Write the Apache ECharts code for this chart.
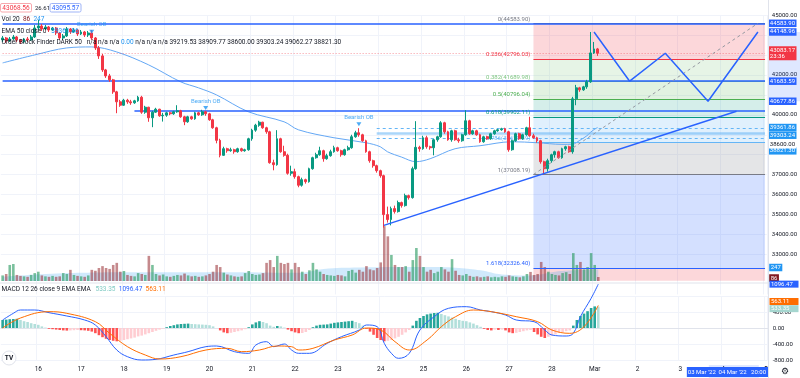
<!DOCTYPE html>
<html><head><meta charset="utf-8">
<script src="https://cdn.jsdelivr.net/npm/echarts@6/dist/echarts.min.js"></script>
<style>html,body{margin:0;padding:0;background:#fff;}#c{width:800px;height:378px;}</style>
</head><body><div id="c"></div>
<script>
// ---------------- DATA ----------------
const START_UTC = Date.UTC(2022, 1, 15, 4);   // first 2h bar: 15 Feb 04:00
const STEP_HOURS = 2;
const N_SLOTS = 215;                            // bars + empty future slots
const MONTHS = ['Jan','Feb','Mar','Apr','May','Jun','Jul','Aug','Sep','Oct','Nov','Dec'];
const categories = [];
for (let i = 0; i < N_SLOTS; i++) {
  const d = new Date(START_UTC + i * STEP_HOURS * 3600e3);
  categories.push(d.toISOString().slice(0, 16).replace('T', ' '));
}
// OHLC as [open, close, low, high]
const ohlc = [
[43750,43850,43650,43950],[43850,43700,43600,43900],[43700,43800,43650,43900],[43800,43900,43750,44000],
[43900,43750,43650,43950],[43750,43650,43550,43800],[43650,43800,43600,43850],[43800,43750,43650,43900],
[43750,43900,43700,44000],[43900,44350,43850,44500],[44350,44450,44250,44750],[44450,44300,44200,44550],
[44300,44400,44250,44500],[44400,44250,44150,44450],[44250,44350,44200,44400],[44350,44100,44000,44400],
[44100,43850,43750,44150],[43850,43950,43750,44050],[43950,44300,43900,44400],[44300,44150,44050,44350],
[44150,44250,44100,44350],[44250,44050,43950,44300],[44050,44150,44000,44250],[44150,44000,43900,44200],
[44000,44100,43900,44200],[44100,43850,43750,44250],[43850,43350,43250,43900],[43350,42950,42800,43450],
[42950,42250,42150,43050],[42250,41950,41850,42300],[41950,41750,41650,42050],[41750,41150,41050,41800],
[41150,40650,40080,41200],[40650,40480,40400,40750],[40480,40730,40450,40800],[40730,40650,40550,40800],
[40650,40600,40500,40750],[40600,40700,40550,40750],[40700,40880,40650,40950],[40880,40130,40050,40950],
[40130,40380,40050,40450],[40380,39850,39650,40400],[39850,40130,39380,40200],[40130,40280,40100,40350],
[40280,39950,39900,40300],[39950,39980,39660,40100],[39980,40100,39900,40150],[40100,40050,39980,40150],
[40050,40150,40000,40200],[40150,40200,40100,40480],[40200,39900,39850,40250],[39900,39650,39480,39950],
[39650,39900,39600,39950],[39900,39800,39750,39950],[39800,40100,39750,40150],[40100,40000,39950,40150],
[40000,40150,39950,40250],[40150,40050,39950,40200],[40050,39750,39700,40100],[39750,39350,39300,39800],
[39350,38720,38570,39400],[38720,37970,37870,38800],[37970,38300,37950,38400],[38300,38200,38100,38350],
[38200,38250,38150,38350],[38250,38150,38050,38300],[38150,38300,38100,38350],[38300,38200,38150,38350],
[38200,38250,38150,38300],[38250,38800,38200,38850],[38800,39230,38700,39300],[39230,39480,39150,39550],
[39480,39630,39400,39700],[39630,39350,39300,39650],[39350,39150,39050,39400],[39150,37600,37550,39200],
[37600,37500,37220,37750],[37500,38800,37450,39230],[38800,38150,38100,38850],[38150,37970,37900,38450],
[37970,37070,37000,38050],[37070,37150,36950,37450],[37150,36900,36800,37300],[36900,36470,36370,36950],
[36470,36750,36400,36850],[36750,36650,36550,36800],[36650,37300,36600,37350],[37300,37850,37250,37900],
[37850,38000,37800,38100],[38000,38200,37950,38400],[38200,37800,37650,38250],[37800,37950,37750,38050],
[37950,38150,37900,38250],[38150,38350,38100,38450],[38350,38200,38150,38400],[38200,38000,37900,38250],
[38000,38250,37950,38300],[38250,38350,38200,38450],[38350,38900,38300,39000],[38900,39100,38850,39200],
[39100,39000,38900,39330],[39000,38700,38650,39050],[38700,38150,38100,38750],[38150,37700,37600,38200],
[37700,37450,37350,37750],[37450,37200,37100,37500],[37200,36950,36850,37250],[36950,35000,34350,37000],
[35000,34750,34600,35400],[34750,35300,34460,35400],[35300,35150,35050,35450],[35150,35600,35100,35700],
[35600,35450,35350,35650],[35450,35950,35400,36050],[35950,35850,35750,36000],[35850,37300,35800,37400],
[37300,38370,37250,39680],[38370,38300,38150,38450],[38300,38850,38250,38950],[38850,38400,38300,38950],
[38400,38350,38250,38450],[38350,38750,37970,38800],[38750,38900,38650,38950],[38900,39600,38850,39680],
[39600,39150,39050,39650],[39150,38750,38700,39200],[38750,39200,38650,39250],[39200,38750,38700,39250],
[38750,38700,38600,38850],[38700,39000,38650,39050],[39000,39700,38950,40230],[39700,39050,39000,39750],
[39050,39200,39000,39250],[39200,39000,38950,39250],[39000,38650,38600,39050],[38650,38900,38600,38950],
[38900,38800,38750,38950],[38800,39050,38750,39100],[39050,39200,39000,39250],[39200,39250,39150,39300],
[39250,39300,39200,39350],[39300,39150,39100,39350],[39150,38250,38150,39200],[38250,38700,38200,38750],
[38700,39050,38650,39100],[39050,38800,38750,39100],[38800,39000,38750,39050],[39000,39350,38950,39400],
[39350,38950,38900,39900],[38950,38850,38800,39050],[38850,38700,38600,38900],[38700,37650,37550,38750],
[37650,37300,37008,37700],[37300,37700,37150,37800],[37700,38000,37600,38050],[38000,38150,37850,38200],
[38150,37850,37800,38200],[37850,38300,37800,38350],[38300,38400,38200,38450],[38400,38150,38100,38450],
[38150,40800,38050,40900],[40800,41350,40480,41500],[41350,41250,41150,41400],[41250,41400,41200,41450],
[41400,41650,41300,41750],[41650,43100,41600,44148.96],[43100,43300,43050,43650],[43300,43083.17,42950,43350]
];
const volume = [
120,150,345,365,130,110,100,90,130,170,200,120,100,90,110,90,100,170,150,240,
130,110,100,90,120,240,220,280,320,280,260,345,390,200,215,130,110,100,170,150,
130,540,345,150,120,140,100,90,110,130,120,160,120,100,110,90,100,120,150,200,
345,300,180,140,120,100,90,100,170,215,150,130,140,170,390,450,300,540,390,365,
390,250,390,300,200,150,230,390,250,200,150,130,120,110,130,120,100,215,240,180,
240,200,320,250,230,280,400,1180,960,560,345,300,300,320,200,450,710,540,300,200,
240,170,200,300,250,200,470,220,130,120,150,110,90,100,80,90,100,80,90,80,
100,90,120,100,90,80,100,150,195,130,150,410,300,200,150,130,120,170,190,150,
600,345,410,250,300,600,345,86
];
const volMA = [[0,90],[18,170],[40,190],[65,190],[83,175],[90,260],[100,290],[120,300],[128,280],[134,230],[140,140],[148,120],[155,200],[160,230],[167,247]];
const ema50 = [[0,42600],[9,43000],[18,43350],[25,43400],[32,43150],[41,42500],[50,41650],[55,41350],[60,41000],[69,40150],[79,39650],[83,39250],[93,38850],[102,38600],[106,38400],[108,38150],[112,37880],[116,37650],[120,37800],[127,38300],[134,38450],[143,38650],[150,38600],[157,38520],[160,38530],[162,38720],[164,38950],[165,39120],[166,39260],[167,39361.86]];
const macdHist = [
200,210,220,225,230,200,170,150,120,100,80,40,10,-20,-30,-40,-50,-60,-65,-60,
-55,-50,-55,-60,-70,-90,-130,-180,-230,-270,-300,-320,-333,-320,-300,-280,-260,-240,-210,-190,
-160,-130,-100,-70,-40,-15,20,50,70,90,100,105,110,100,95,90,85,80,70,40,
0,-60,-110,-130,-120,-100,-80,-60,-30,20,90,140,170,150,120,60,30,50,40,10,
-40,-80,-110,-130,-125,-100,-50,20,60,80,85,90,110,130,140,150,160,170,180,150,
120,60,-20,-90,-170,-250,-300,-333,-320,-300,-260,-220,-170,-110,-50,60,180,250,300,340,
360,375,380,350,320,290,260,230,200,180,170,140,110,70,30,-20,-50,-60,-40,-50,
-40,-60,-110,-130,-120,-100,-80,-60,-50,-100,-160,-220,-250,-220,-190,-160,-120,-100,-80,-60,
60,200,300,360,420,500,540,533.35
];
const macdLine = [[0,200],[3,367],[5,450],[9,450],[13,383],[18,300],[23,200],[26,75],[29,-217],[32,-550],[35,-717],[39,-800],[43,-783],[48,-675],[52,-592],[57,-467],[60,-450],[65,-592],[69,-633],[71,-425],[74,-342],[76,-467],[79,-400],[81,-550],[83,-633],[86,-633],[91,-383],[95,-217],[100,-50],[102,75],[105,33],[107,-383],[109,-633],[111,-758],[114,-633],[117,-50],[121,283],[125,492],[130,533],[134,450],[137,408],[141,325],[144,200],[149,158],[152,-50],[154,-175],[158,-200],[160,-133],[162,283],[165,742],[167,1096.47]];
const signalLine = [[0,0],[5,250],[13,408],[18,367],[26,158],[30,-133],[35,-467],[40,-675],[44,-775],[50,-717],[57,-550],[63,-508],[67,-592],[72,-550],[77,-450],[81,-467],[83,-550],[87,-508],[93,-300],[98,-175],[102,0],[106,-50],[110,-342],[114,-550],[119,-300],[123,33],[127,283],[132,450],[137,408],[144,283],[150,158],[154,-50],[159,-133],[163,33],[167,563.11]];
// Drawings
const fibStartIdx = 149, fibEndIdx = 214;
const fibHigh = 44583.90, fibLow = 37008.19;
const fibRatios = [0, 0.236, 0.382, 0.5, 0.618, 0.786, 1, 1.618, 2.618];
const fibDiagonal = [[149, 37008.19], [212, 44583.90]];
const blueRays = [[0, 44583.90], [0, 41683.59], [37, 40177.86]];   // [start bar, price]
const obLinesStart = 105;
const obDashed = [39303.24, 38821.30];
const obMid = [39062.27];
const trendLine = [[107, 34460], [206, 40180]];
const zigzag = [[166, 44148.96], [176, 41683.59], [186, 43083.17], [198, 40677.86], [212, 44148.96]];
const obMarkers = [[25, 44164], [57, 40340], [100, 39525]];
const lastPrice = 43083.17;
const priceTags = [44583.90, 44148.96, 43083.17, 41683.59, 40677.86, 39361.86, 39303.24, 39219.53, 38821.30, 38600.00];
const hiddenTicks = [44000, 43000, 41000, 39000, 38000];   // regular ticks covered by tags
const volTags = [247, 86];
const macdTags = [1096.47, 563.11, 533.35];
const selRange = [198, 212];

// ---------------- STYLE / LAYOUT ----------------
const FONT = 'Roboto, "Liberation Sans", sans-serif';
const BAND = 3.5667, GL = 0.85, GW = N_SLOTS * BAND, PX1000 = 19.96;
const UP = '#089981', DN = '#f23645';
const fibColors = ['#787b86', '#f23645', '#81c784', '#4caf50', '#089981', '#64b5f6', '#787b86', '#2962ff', '#f23645'];
const fibFill = ['rgba(242,54,69,0.2)', 'rgba(129,199,132,0.2)', 'rgba(76,175,80,0.17)', 'rgba(8,153,129,0.17)',
                 'rgba(100,181,246,0.2)', 'rgba(120,123,134,0.2)', 'rgba(41,98,255,0.2)', 'rgba(242,54,69,0.2)'];
const FIB_FLOOR = 31690; // bottom edge of the price pane
const tagBg = ['#2962ff', '#2962ff', '#f23645', '#2962ff', '#2962ff', '#2196f3', '#2196f3', '#ffffff', '#2196f3', '#ffffff'];
const tagFg = ['#fff', '#fff', '#fff', '#fff', '#fff', '#fff', '#fff', '#131722', '#fff', '#131722'];
const tagShift = [0, 0, 0, 0, 0, 0, 6.5, 13, 12.5, 2];      // stacking offsets like the price scale does
const macdTagBg = ['#2962ff', '#ff6d00', '#a5d6cf'];
const macdTagShift = [0, -4, 2];

const isDayStart = (i) => categories[i] && categories[i].slice(11, 13) === '00';
const dayLabel = (v) => {
  const d = +v.slice(8, 10), m = +v.slice(5, 7);
  return d === 1 ? MONTHS[m - 1] : String(d);
};
const fibLevels = fibRatios.map(r => fibHigh - r * (fibHigh - fibLow));

const fibZones = [];
for (let i = 0; i < fibLevels.length - 1; i++) {
  fibZones.push([{ coord: [fibStartIdx, fibLevels[i]], itemStyle: { color: fibFill[i] } },
                 { coord: [fibEndIdx, Math.max(fibLevels[i + 1], FIB_FLOOR)] }]);
}
const fibLines = fibLevels.slice(0, 8).map((lv, i) => [
  { coord: [fibStartIdx, lv], lineStyle: { color: fibColors[i], width: 1, type: 'solid' } },
  { coord: [fibEndIdx, lv] }]);
const fibLabels = fibLevels.slice(0, 8).map((lv, i) => ({
  coord: [fibStartIdx, lv], symbol: 'circle', symbolSize: 0.1, itemStyle: { color: 'rgba(0,0,0,0)' },
  label: { show: true, position: 'left', distance: 3, offset: [0, -4], fontSize: 6, fontFamily: FONT,
           color: fibColors[i], formatter: fibRatios[i] + '(' + lv.toFixed(2) + ')' }
}));

const splitColors = [];
for (let v = 31000; v <= 45000; v += 1000) splitColors.push(v < 33000 ? 'rgba(0,0,0,0)' : '#f0f3fa');

const tagLabel = (bg, fg, text, extra) => Object.assign({
  show: true, position: 'end', distance: 1.5, backgroundColor: bg, color: fg, padding: [1, 1.5, 0, 1.5],
  fontSize: 6, lineHeight: 6.5, fontFamily: FONT, formatter: text
}, extra || {});
const hidden = { color: 'rgba(0,0,0,0)', width: 0 };

const option = {
  animation: false,
  backgroundColor: '#ffffff',
  textStyle: { fontFamily: FONT },
  grid: [
    { left: GL, top: 15, width: GW, height: 14 * PX1000 },
    { left: GL, top: 221, width: GW, height: 60 },
    { left: GL, top: 296, width: GW, height: 64 }
  ],
  xAxis: [0, 1, 2].map(g => ({
    type: 'category', gridIndex: g, data: categories, boundaryGap: true,
    axisLine: { show: g === 2, lineStyle: { color: '#e0e3eb' } },
    axisTick: { show: false, alignWithLabel: true },
    axisLabel: { show: g === 2, interval: isDayStart, formatter: dayLabel, fontSize: 6.5, color: '#131722', margin: 6, fontFamily: FONT },
    splitLine: { show: g !== 1, interval: isDayStart, lineStyle: { color: '#f0f3fa', width: 1 } }
  })),
  yAxis: [
    { type: 'value', gridIndex: 0, position: 'right', min: 31000, max: 45000, interval: 1000,
      axisLine: { show: false }, axisTick: { show: false },
      axisLabel: { fontSize: 6, color: '#131722', margin: 5, fontFamily: FONT,
        formatter: v => (v < 33000 || hiddenTicks.indexOf(v) >= 0) ? '' : v.toFixed(2) },
      splitLine: { lineStyle: { color: splitColors } } },
    { type: 'value', gridIndex: 1, min: 0, max: 1290, show: false, splitLine: { show: false } },
    { type: 'value', gridIndex: 2, position: 'right', min: -800, max: 800, interval: 400,
      axisLine: { show: false }, axisTick: { show: false },
      axisLabel: { fontSize: 6, color: '#131722', margin: 5, fontFamily: FONT, formatter: v => v === 800 ? '' : v.toFixed(2) },
      splitLine: { lineStyle: { color: '#f0f3fa' } } }
  ],
  series: [
    { type: 'line', xAxisIndex: 0, yAxisIndex: 0, data: [[fibStartIdx, fibLow]], showSymbol: false, lineStyle: hidden, z: 1, silent: true,
      markArea: { silent: true, data: fibZones },
      markLine: { silent: true, symbol: ['none', 'none'], label: { show: false }, data: fibLines },
      markPoint: { silent: true, data: fibLabels } },
    { type: 'line', xAxisIndex: 0, yAxisIndex: 0, data: [[0, lastPrice]], showSymbol: false, lineStyle: hidden, z: 3, silent: true,
      markLine: { silent: true, symbol: ['none', 'none'], label: { show: false },
        data: [].concat(
          blueRays.map(r => [{ coord: [r[0], r[1]], lineStyle: { color: '#2962ff', width: 1.5, type: 'solid' } }, { coord: [N_SLOTS - 1, r[1]] }]),
          obDashed.map(v => [{ coord: [obLinesStart, v], lineStyle: { color: '#64b5f6', width: 1, type: [3, 3] } }, { coord: [N_SLOTS - 1, v] }]),
          obMid.map(v => [{ coord: [obLinesStart, v], lineStyle: { color: 'rgba(100,181,246,0.55)', width: 2.5, type: 'solid' } }, { coord: [N_SLOTS - 1, v] }]),
          [[{ coord: [0, lastPrice], lineStyle: { color: 'rgba(242,54,69,0.5)', width: 1, type: [1, 2] } }, { coord: [N_SLOTS - 1, lastPrice] }]]
        ) } },
    { type: 'line', xAxisIndex: 0, yAxisIndex: 0, data: ema50, smooth: 0.35, symbol: 'none', z: 4,
      lineStyle: { color: '#64a8f5', width: 1 } },
    { type: 'candlestick', xAxisIndex: 0, yAxisIndex: 0, data: ohlc, barWidth: 2.4, z: 5,
      itemStyle: { color: UP, color0: DN, borderColor: UP, borderColor0: DN, borderWidth: 1 } },
    { type: 'line', xAxisIndex: 0, yAxisIndex: 0, data: fibDiagonal, symbol: 'none', z: 6,
      lineStyle: { color: '#9598a1', width: 1, type: [3, 3] } },
    { type: 'line', xAxisIndex: 0, yAxisIndex: 0, data: trendLine, symbol: 'none', z: 6,
      lineStyle: { color: '#2962ff', width: 1.5 } },
    { type: 'line', xAxisIndex: 0, yAxisIndex: 0, z: 7, showSymbol: true,
      data: zigzag.map((p, i) => i >= zigzag.length - 2
        ? { value: p, symbol: 'circle', symbolSize: 6, itemStyle: { color: '#fff', borderColor: '#2962ff', borderWidth: 1 } }
        : { value: p, symbol: 'none' }),
      lineStyle: { color: '#2962ff', width: 1.5 } },
    { type: 'scatter', xAxisIndex: 0, yAxisIndex: 0, data: obMarkers, symbol: 'triangle', symbolRotate: 180, symbolSize: [5, 4], z: 8,
      itemStyle: { color: '#2196f3' },
      label: { show: true, position: 'top', distance: 2, formatter: 'Bearish OB', fontSize: 6, color: '#2196f3', fontFamily: FONT } },
    { type: 'bar', xAxisIndex: 1, yAxisIndex: 1, barWidth: 2.6, z: 3,
      data: volume.map((v, i) => ({ value: v, itemStyle: { color: ohlc[i][1] >= ohlc[i][0] ? 'rgba(34,150,90,0.6)' : 'rgba(150,40,45,0.55)' } })) },
    { type: 'line', xAxisIndex: 1, yAxisIndex: 1, data: volMA, smooth: 0.4, symbol: 'none', z: 2,
      lineStyle: { width: 0 }, areaStyle: { color: 'rgba(33,150,243,0.3)' } },
    { type: 'bar', xAxisIndex: 2, yAxisIndex: 2, barWidth: 2.6, z: 3,
      data: macdHist.map((v, i) => {
        const p = i > 0 ? macdHist[i - 1] : v;
        const c = v >= 0 ? (v >= p ? '#26a69a' : '#b2dfdb') : (v <= p ? '#ff5252' : '#ffcdd2');
        return { value: v, itemStyle: { color: c } };
      }) },
    { type: 'line', xAxisIndex: 2, yAxisIndex: 2, data: macdLine, smooth: 0.4, symbol: 'none', clip: false, z: 4,
      lineStyle: { color: '#2962ff', width: 1 } },
    { type: 'line', xAxisIndex: 2, yAxisIndex: 2, data: signalLine, smooth: 0.4, symbol: 'none', clip: false, z: 4,
      lineStyle: { color: '#ff6d00', width: 1 } },
    { type: 'line', xAxisIndex: 0, yAxisIndex: 0, data: [[0, lastPrice]], showSymbol: false, lineStyle: hidden, z: 20, silent: true,
      markLine: { silent: true, symbol: ['none', 'none'],
        data: priceTags.map((v, i) => ({ yAxis: v, lineStyle: hidden,
          label: tagLabel(tagBg[i], tagFg[i], v === lastPrice ? v.toFixed(2) + '\n23:36' : v.toFixed(2), { offset: [0, tagShift[i]] }) })) } },
    { type: 'line', xAxisIndex: 1, yAxisIndex: 1, data: [[0, 0]], showSymbol: false, lineStyle: hidden, z: 20, silent: true,
      markLine: { silent: true, symbol: ['none', 'none'],
        data: volTags.map((v, i) => ({ yAxis: v, lineStyle: hidden,
          label: tagLabel(i === 0 ? '#2196f3' : '#801922', '#fff', String(v), { offset: [0, i === 0 ? -2 : 1] }) })) } }
  ],
  graphic: [
    { type: 'line', shape: { x1: 0, y1: 283, x2: 768, y2: 283 }, style: { stroke: '#e0e3eb', lineWidth: 1 }, z: 30 },
    { type: 'line', shape: { x1: 768.5, y1: 0, x2: 768.5, y2: 378 }, style: { stroke: '#e0e3eb', lineWidth: 1 }, z: 30 },
    { type: 'rect', shape: { x: 0.5, y: 3.5, width: 31, height: 8.5, r: 1.5 }, style: { fill: '#fff', stroke: '#f7a8ae', lineWidth: 1 }, z: 40 },
    { type: 'text', x: 16, y: 8, style: { text: '43068.56', fill: '#f23645', font: '6.5px ' + FONT, align: 'center', verticalAlign: 'middle' }, z: 41 },
    { type: 'text', x: 35, y: 8, style: { text: '26.61', fill: '#131722', font: '6px ' + FONT, verticalAlign: 'middle' }, z: 41 },
    { type: 'rect', shape: { x: 50, y: 3.5, width: 31, height: 8.5, r: 1.5 }, style: { fill: '#fff', stroke: '#9fb4f7', lineWidth: 1 }, z: 40 },
    { type: 'text', x: 65.5, y: 8, style: { text: '43095.57', fill: '#2962ff', font: '6.5px ' + FONT, align: 'center', verticalAlign: 'middle' }, z: 41 },
    { type: 'text', x: 1.5, y: 19.5, z: 41, style: { verticalAlign: 'middle', font: '6.5px ' + FONT,
      text: '{a|Vol 20}  {r|86}  {b|247}', rich: { a: { fill: '#131722', font: '6.5px ' + FONT }, r: { fill: '#801922', font: '6.5px ' + FONT }, b: { fill: '#2196f3', font: '6.5px ' + FONT } } } },
    { type: 'text', x: 1.5, y: 31, z: 41, style: { verticalAlign: 'middle', font: '6.5px ' + FONT,
      text: '{a|EMA 50 close 0}   {b|39361.86}', rich: { a: { fill: '#131722', font: '6.5px ' + FONT }, b: { fill: '#2196f3', font: '6.5px ' + FONT } } } },
    { type: 'text', x: 1.5, y: 42.5, z: 41, style: { verticalAlign: 'middle', font: '6.5px ' + FONT,
      text: '{a|Order Block Finder DARK 50}   {a|n/a n/a n/a} {b|0.00} {a|n/a n/a n/a 39219.53 38909.77 38600.00 39303.24 39062.27 38821.30}',
      rich: { a: { fill: '#131722', font: '6.5px ' + FONT }, b: { fill: '#2196f3', font: '6.5px ' + FONT } } } },
    { type: 'text', x: 1.5, y: 289.5, z: 41, style: { verticalAlign: 'middle', font: '6.5px ' + FONT,
      text: '{a|MACD 12 26 close 9 EMA EMA}   {t|533.35}  {b|1096.47}  {o|563.11}',
      rich: { a: { fill: '#131722', font: '6.5px ' + FONT }, t: { fill: '#80cbc4', font: '6.5px ' + FONT }, b: { fill: '#2962ff', font: '6.5px ' + FONT }, o: { fill: '#ff6d00', font: '6.5px ' + FONT } } } },
    { type: 'circle', shape: { cx: 9, cy: 358, r: 7 }, style: { fill: '#fff', stroke: '#e0e3eb', lineWidth: 1 }, z: 40 },
    { type: 'text', x: 9, y: 358, style: { text: 'TV', fill: '#131722', font: 'bold 6.5px ' + FONT, align: 'center', verticalAlign: 'middle' }, z: 41 }
  ]
};

const chart = echarts.init(document.getElementById('c'), null, { renderer: 'canvas', width: 800, height: 378 });
chart.setOption(option);

const extra = [];
macdTags.forEach((v, i) => {
  const y = chart.convertToPixel({ yAxisIndex: 2 }, v) + macdTagShift[i];
  extra.push({ type: 'rect', shape: { x: 769.5, y: y - 3.5, width: 29, height: 7 }, style: { fill: macdTagBg[i] }, z: 45 });
  extra.push({ type: 'text', x: 771, y: y, style: { text: v.toFixed(2), fill: '#fff', font: '6px ' + FONT, verticalAlign: 'middle' }, z: 46 });
});
const x0 = chart.convertToPixel({ xAxisIndex: 2 }, selRange[0]);
const x1 = chart.convertToPixel({ xAxisIndex: 2 }, selRange[1]);
const yA = chart.convertToPixel({ yAxisIndex: 0 }, zigzag[zigzag.length - 1][1]);
const yB = chart.convertToPixel({ yAxisIndex: 0 }, zigzag[zigzag.length - 2][1]);
extra.push(
  { type: 'rect', shape: { x: x0, y: 365, width: x1 - x0, height: 13 }, style: { fill: 'rgba(41,98,255,0.15)' }, z: 35 },
  { type: 'rect', shape: { x: 769, y: Math.min(yA, yB), width: 31, height: Math.abs(yB - yA) }, style: { fill: 'rgba(41,98,255,0.15)' }, z: 1 },
  { type: 'rect', shape: { x: x0 - 22, y: 367, width: 768 - (x0 - 22), height: 10 }, style: { fill: '#2962ff' }, z: 36 },
  { type: 'text', x: x0 - 7, y: 372, style: { text: "03 Mar '22", fill: '#fff', font: '6px ' + FONT, align: 'center', verticalAlign: 'middle' }, z: 37 },
  { type: 'text', x: 766, y: 372, style: { text: "04 Mar '22   20:00", fill: '#fff', font: '6px ' + FONT, align: 'right', verticalAlign: 'middle' }, z: 37 },
  { type: 'text', x: 785, y: 372, style: { text: '⚙', fill: '#131722', font: '9px ' + FONT, align: 'center', verticalAlign: 'middle' }, z: 37 }
);
chart.setOption({ graphic: option.graphic.concat(extra) });
</script>
</body></html>
